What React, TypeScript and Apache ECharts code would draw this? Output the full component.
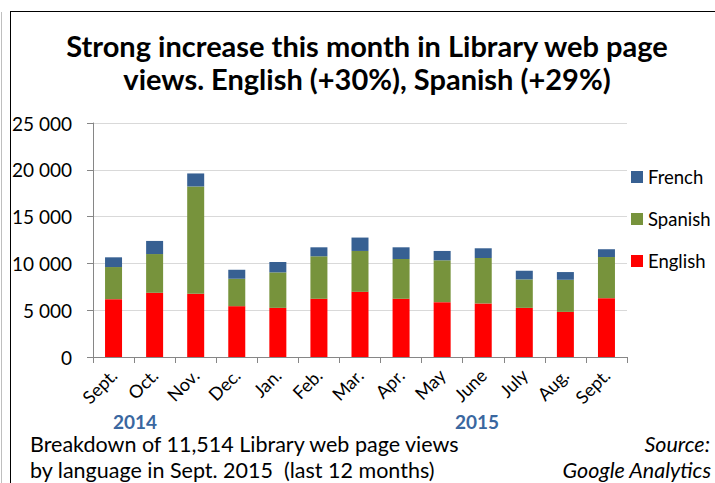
import React, { useEffect, useRef } from "react";
import * as echarts from "echarts";

const months = ["Sept.", "Oct.", "Nov.", "Dec.", "Jan.", "Feb.", "Mar.", "Apr.", "May", "June", "July", "Aug.", "Sept."];
const english = [6180, 6860, 6750, 5430, 5250, 6220, 6960, 6220, 5860, 5720, 5250, 4820, 6290];
const spanish = [3430, 4140, 11470, 2930, 3790, 4540, 4370, 4250, 4470, 4855, 3040, 3430, 4390];
const french = [1040, 1400, 1390, 960, 1110, 960, 1430, 1250, 1000, 1040, 925, 825, 834];
const yearLabels = ["2014", "2015"];

const FONT = "Lato, 'Open Sans', sans-serif";

export default function App() {
  const ref = useRef<HTMLDivElement>(null);
  useEffect(() => {
    document.body.style.margin = "0";
    const chart = echarts.init(ref.current!, null, { renderer: "svg" });
    const axisColor = "#868686";
    chart.setOption({
      animation: false,
      backgroundColor: "#ffffff",
      textStyle: { fontFamily: FONT },
      grid: { left: 93, right: 88, top: 123, bottom: 126 },
      legend: {
        orient: "vertical",
        left: 631,
        top: 167,
        padding: 0,
        itemWidth: 12,
        itemHeight: 12,
        itemGap: 22,
        icon: "rect",
        textStyle: { fontSize: 18.5, lineHeight: 20, color: "#000", fontFamily: FONT },
        data: ["French", "Spanish", "English"],
      },
      xAxis: {
        type: "category",
        data: months,
        axisLine: { show: true, lineStyle: { color: axisColor } },
        axisTick: { show: true, interval: 0, length: 6, lineStyle: { color: axisColor } },
        axisLabel: { interval: 0, rotate: 45, fontSize: 18, color: "#000", margin: 15, fontFamily: FONT },
      },
      yAxis: {
        type: "value",
        min: 0,
        max: 25000,
        interval: 5000,
        axisLine: { show: true, lineStyle: { color: axisColor } },
        axisTick: { show: true, length: 6, lineStyle: { color: axisColor } },
        splitLine: { show: true, lineStyle: { color: "#d9d9d9" } },
        axisLabel: {
          fontSize: 19,
          color: "#000",
          margin: 21,
          fontFamily: FONT,
          formatter: (v: number) => String(v).replace(/\B(?=(\d{3})+(?!\d))/g, " "),
        },
      },
      series: [
        { name: "English", type: "bar", stack: "t", data: english, barWidth: 17, itemStyle: { color: "#ff0000" } },
        { name: "Spanish", type: "bar", stack: "t", data: spanish, barWidth: 17, itemStyle: { color: "#77933c" } },
        { name: "French", type: "bar", stack: "t", data: french, barWidth: 17, itemStyle: { color: "#376092" } },
      ],
      graphic: [
        { type: "line", shape: { x1: 1.5, y1: 12, x2: 1.5, y2: 483 }, style: { stroke: "#bfbfbf", lineWidth: 1 } },
        { type: "line", shape: { x1: 10.5, y1: 11, x2: 10.5, y2: 483 }, style: { stroke: "#000", lineWidth: 1 } },
        { type: "line", shape: { x1: 10, y1: 11.5, x2: 715, y2: 11.5 }, style: { stroke: "#000", lineWidth: 1 } },
        {
          type: "text",
          x: 367,
          y: 29,
          style: {
            text: "Strong increase this month in Library web page\nviews. English (+30%), Spanish (+29%)",
            fontSize: 29,
            fontWeight: "bold",
            fontFamily: FONT,
            fill: "#000",
            align: "center",
            verticalAlign: "top",
            lineHeight: 33,
          },
        },
        {
          type: "text", x: 135, y: 421,
          style: { text: yearLabels[0], fontSize: 19, lineHeight: 16, fontWeight: "bold", fill: "#3a67a0", align: "center", verticalAlign: "middle", fontFamily: FONT },
        },
        {
          type: "text", x: 477, y: 421,
          style: { text: yearLabels[1], fontSize: 19, lineHeight: 16, fontWeight: "bold", fill: "#3a67a0", align: "center", verticalAlign: "middle", fontFamily: FONT },
        },
        {
          type: "text", x: 30, y: 444,
          style: { text: "Breakdown of 11,514 Library web page views", fontSize: 21.5, lineHeight: 20, fill: "#000", align: "left", verticalAlign: "middle", fontFamily: FONT },
        },
        {
          type: "text", x: 30, y: 470,
          style: { text: "by language in Sept. 2015  (last 12 months)", fontSize: 21.5, lineHeight: 20, fill: "#000", align: "left", verticalAlign: "middle", fontFamily: FONT },
        },
        {
          type: "text", x: 710, y: 444,
          style: { text: "Source:", fontSize: 21.5, lineHeight: 20, fontStyle: "italic", fill: "#000", align: "right", verticalAlign: "middle", fontFamily: FONT },
        },
        {
          type: "text", x: 711, y: 470,
          style: { text: "Google Analytics", fontSize: 21.5, lineHeight: 20, fontStyle: "italic", fill: "#000", align: "right", verticalAlign: "middle", fontFamily: FONT },
        },
      ],
    });
    return () => chart.dispose();
  }, []);
  return <div ref={ref} style={{ width: 715, height: 483 }} />;
}
